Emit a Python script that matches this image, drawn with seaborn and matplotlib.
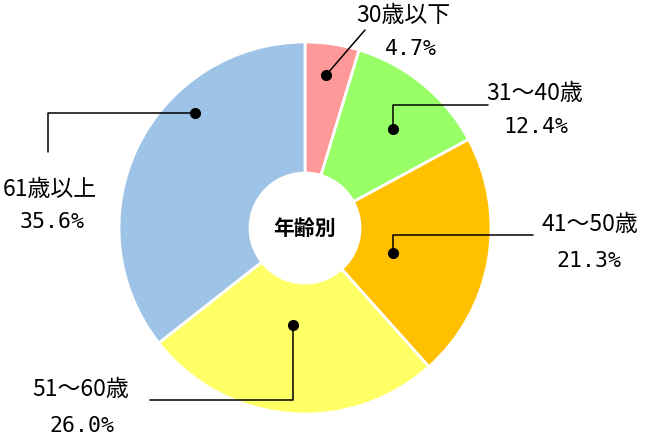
import numpy as np
import matplotlib
matplotlib.use("Agg")
import matplotlib.pyplot as plt
import seaborn as sns

# ---- data ----
categories = ["30歳以下", "31～40歳", "41～50歳", "51～60歳", "61歳以上"]
values = [4.7, 12.4, 21.3, 26.0, 35.6]
colors = ["#FF9999", "#99FF66", "#FFC000", "#FFFF66", "#9DC3E6"]
center_label = "年齢別"

sns.set_theme(style="white")
plt.rcParams["font.family"] = ["Noto Sans CJK JP", "DejaVu Sans"]

W, H = 645, 444
fig = plt.figure(figsize=(W / 100, H / 100), dpi=100)
ax = fig.add_axes([0, 0, 1, 1])

cx, cy, R, r_in = 305, 228, 186, 55
palette = sns.color_palette(colors)
wedges, _ = ax.pie(values, colors=palette, startangle=-90, counterclock=True,
                   center=(cx, cy), radius=R,
                   wedgeprops=dict(width=R - r_in, edgecolor="white", linewidth=2))
ax.set_xlim(0, W)
ax.set_ylim(H, 0)
ax.set_aspect("equal")
ax.axis("off")

ax.text(cx, cy, center_label, ha="center", va="center", fontsize=15,
        fontweight="bold", color="black")

# layout: (angle offset deg, radius px) for dot, leader path, name pos, pct pos
layout = [
    dict(off=0.7, r=154, path=[(365, 30)], name=(403, 15), pct=(411, 49)),
    dict(off=-2.4, r=132, path=[("v", 105), (488, 105)], name=(535, 94), pct=(536, 127)),
    dict(off=-6.0, r=91, path=[("v", 235), (533, 235)], name=(590, 224), pct=(589, 261)),
    dict(off=-2.0, r=98, path=[("v", 400), (150, 400)], name=(81, 389), pct=(82, 426)),
    dict(off=-20.4, r=159, path=[("h", 48), (48, 152)], name=(50, 189), pct=(52, 222)),
]

total = sum(values)
cum = 0.0
for cat, v, lay in zip(categories, values, layout):
    mid = 90 - 360 * (cum + v / 2) / total
    cum += v
    phi = np.deg2rad(mid + lay["off"])
    dx, dy = cx + lay["r"] * np.cos(phi), cy - lay["r"] * np.sin(phi)
    xs, ys = [dx], [dy]
    for p in lay["path"]:
        if p[0] == "v":
            xs.append(dx); ys.append(p[1])
        elif p[0] == "h":
            xs.append(p[1]); ys.append(dy)
        else:
            xs.append(p[0]); ys.append(p[1])
    ax.plot(xs, ys, color="black", linewidth=1.1, zorder=5)
    ax.plot([dx], [dy], "o", color="black", markersize=7, zorder=6)
    ax.text(*lay["name"], cat, ha="center", va="center", fontsize=16.5, color="black")
    ax.text(*lay["pct"], f"{v:.1f}%", ha="center", va="center", fontsize=15.5,
            color="black", family=["DejaVu Sans Mono", "Noto Sans CJK JP"])

fig.savefig("out.png", dpi=100)
